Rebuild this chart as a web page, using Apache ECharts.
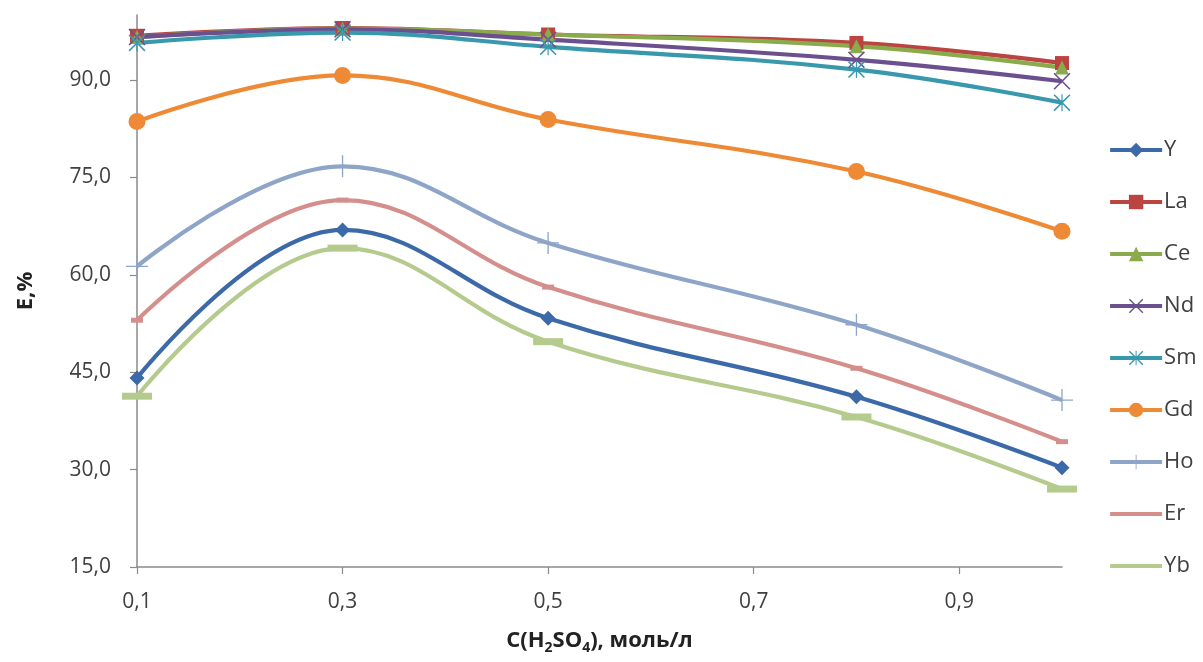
<!DOCTYPE html>
<html>
<head>
<meta charset="utf-8">
<script src="https://cdn.jsdelivr.net/npm/echarts@6/dist/echarts.min.js"></script>
<style>
  html, body { margin: 0; padding: 0; background: #ffffff; }
  #chart { width: 1203px; height: 662px; }
</style>
</head>
<body>
<div id="chart"></div>
<script>
// Acid concentration, mol/l
const concentrations = [0.1, 0.3, 0.5, 0.8, 1.0];

// Extraction degree E, % for each element
const Y  = [44.1, 66.9, 53.3, 41.2, 30.3];
const La = [96.8, 98.0, 97.0, 95.7, 92.6];
const Ce = [96.6, 97.9, 97.0, 95.2, 91.9];
const Nd = [96.6, 97.8, 96.2, 93.1, 89.8];
const Sm = [95.7, 97.3, 95.1, 91.6, 86.5];
const Gd = [83.6, 90.7, 83.9, 75.9, 66.7];
const Ho = [61.3, 76.7, 64.9, 52.3, 40.7];
const Er = [53.0, 71.5, 58.1, 45.6, 34.3];
const Yb = [41.3, 64.1, 49.7, 38.1, 27.0];

const yTicks = [15, 30, 45, 60, 75, 90];
const xTicks = [0.1, 0.3, 0.5, 0.7, 0.9];

const FONT = '"Open Sans", "Noto Sans", sans-serif';
const TEXT = '#404040';

// Marker shapes drawn as filled outlines
const CROSS = 'path://M0,1.3L1.3,0L10,8.7L18.7,0L20,1.3L11.3,10L20,18.7L18.7,20L10,11.3L1.3,20L0,18.7L8.7,10Z';
const STAR = CROSS + 'M9.3,0H10.7V20H9.3Z';
const PLUS = 'path://M9.4,0H10.6V9.4H20V10.6H10.6V20H9.4V10.6H0V9.4H9.4Z';

const styles = [
  { name: 'Y',  data: Y,  color: '#3c69a8', symbol: 'diamond',  size: 15 },
  { name: 'La', data: La, color: '#bb4441', symbol: 'rect',     size: 14 },
  { name: 'Ce', data: Ce, color: '#8aab4c', symbol: 'triangle', size: 14 },
  { name: 'Nd', data: Nd, color: '#6c4f8f', symbol: CROSS,      size: 17 },
  { name: 'Sm', data: Sm, color: '#3a98ad', symbol: STAR,       size: 17 },
  { name: 'Gd', data: Gd, color: '#ee8a36', symbol: 'circle',   size: 17 },
  { name: 'Ho', data: Ho, color: '#8fa5c8', symbol: PLUS,       size: 22 },
  { name: 'Er', data: Er, color: '#d48f8d', symbol: 'rect',     size: [12, 5], plainKey: true },
  { name: 'Yb', data: Yb, color: '#b5cb8e', symbol: 'rect',     size: [30, 7], plainKey: true }
];

const series = styles.map(s => ({
  name: s.name,
  type: 'line',
  smooth: 0.4,
  data: concentrations.map((c, i) => [c, s.data[i]]),
  symbol: s.symbol,
  symbolSize: s.size,
  showAllSymbol: true,
  lineStyle: { color: s.color, width: 4.2 },
  itemStyle: { color: s.color, borderWidth: 0 },
  emphasis: { disabled: true },
  animation: false
}));

// Legend keys: a thick line with the series marker; Er and Yb show only the line
const legendData = styles.map(s => s.plainKey
  ? { name: s.name, itemStyle: { opacity: 0 } }
  : { name: s.name });

const comma = v => v.toFixed(1).replace('.', ',');

const chart = echarts.init(document.getElementById('chart'), null, { renderer: 'canvas' });
chart.setOption({
  backgroundColor: '#ffffff',
  animation: false,
  grid: { left: 137, right: 141, top: 15, bottom: 95, outerBoundsMode: 'none' },
  xAxis: {
    type: 'value',
    min: 0.1,
    max: 1.0,
    interval: 0.2,
    name: '{n|C(H}{s|2}{n|SO}{s|4}{n|), моль/л}',
    nameLocation: 'middle',
    nameGap: 60,
    nameTextStyle: {
      rich: {
        n: { fontFamily: FONT, fontSize: 22, fontWeight: 'bold', color: '#222', lineHeight: 28 },
        s: { fontFamily: FONT, fontSize: 14, fontWeight: 'bold', color: '#222', lineHeight: 14, verticalAlign: 'bottom' }
      }
    },
    axisLine: { show: true, lineStyle: { color: '#8a8a8a', width: 1.5 } },
    axisTick: { show: true, length: 7, lineStyle: { color: '#8a8a8a', width: 1.2 }, customValues: xTicks },
    axisLabel: { fontFamily: FONT, fontSize: 21, color: TEXT, margin: 25, customValues: xTicks, formatter: comma },
    splitLine: { show: false }
  },
  yAxis: {
    type: 'value',
    min: 15,
    max: 100,
    interval: 15,
    name: 'E,%',
    nameLocation: 'middle',
    nameGap: 100,
    nameTextStyle: { fontFamily: FONT, fontSize: 22, fontWeight: 'bold', color: '#222' },
    axisLine: { show: true, lineStyle: { color: '#8a8a8a', width: 1.5 } },
    axisTick: { show: true, length: 7, lineStyle: { color: '#8a8a8a', width: 1.2 }, customValues: yTicks },
    axisLabel: { fontFamily: FONT, fontSize: 21, color: TEXT, margin: 26, customValues: yTicks, formatter: comma },
    splitLine: { show: false }
  },
  legend: {
    orient: 'vertical',
    left: 1108,
    top: 139,
    padding: 0,
    itemWidth: 52,
    itemHeight: 18,
    itemGap: 30,
    selectedMode: false,
    lineStyle: { width: 4.2 },
    textStyle: { fontFamily: FONT, fontSize: 22, color: TEXT, lineHeight: 18, padding: [0, 0, 0, -3] },
    data: legendData
  },
  series: series
});
</script>
</body>
</html>
